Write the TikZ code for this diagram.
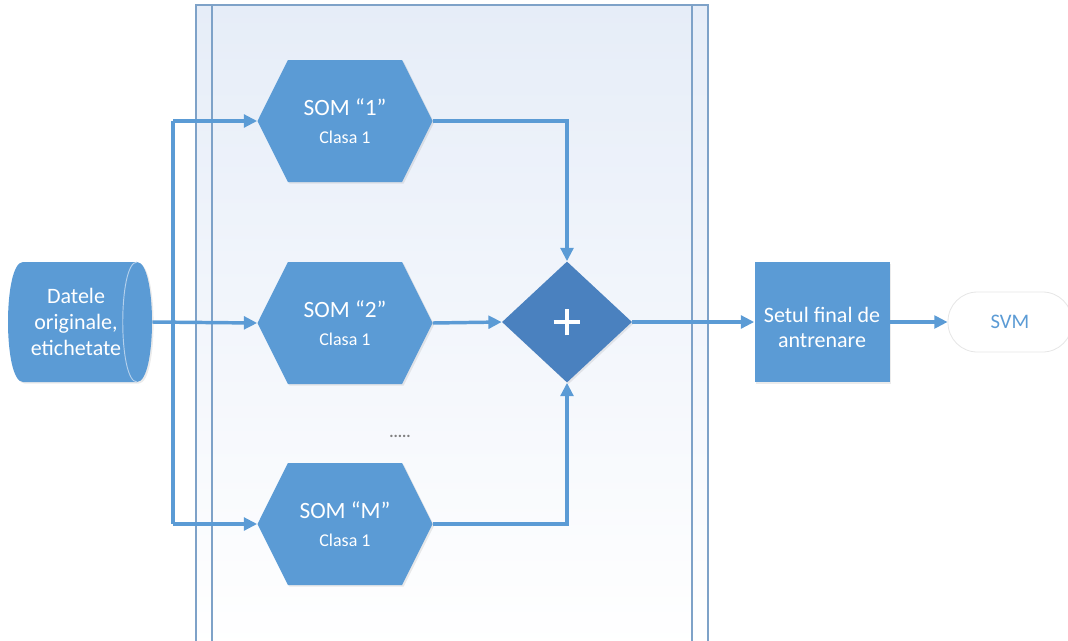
\documentclass[tikz,border=0pt]{standalone}
\usepackage{fontspec}
\setmainfont{Carlito}
\usetikzlibrary{shapes.geometric,shapes.symbols,arrows.meta,shadows}
\definecolor{somblue}{HTML}{5B9BD5}
\definecolor{sumblue}{HTML}{4A81BF}
\definecolor{lanegray}{HTML}{7EA2C8}
\definecolor{lanetop}{HTML}{E6EDF8}
\definecolor{rimblue}{HTML}{B4D0EC}
\definecolor{svmrim}{HTML}{E6E6E6}
\newcommand\somtitle{\fontsize{17.5}{21}\selectfont}
\newcommand\somclass{\fontsize{13.5}{16}\selectfont}
\begin{document}
\begin{tikzpicture}[x=0.75pt,y=-0.75pt,
  flow/.style={line width=2.6pt, draw=somblue},
  conn/.style={flow, -{Triangle[length=10pt,width=9.5pt]}},
  lane/.style={draw=lanegray, line width=1pt},
  soft/.style={drop shadow={opacity=0.16, shadow xshift=1.2pt, shadow yshift=-1.2pt}},
  somhex/.style={signal, signal to=west and east, signal pointer angle=127,
    fill=somblue, draw=none, minimum width=131.25pt, minimum height=91.5pt,
    text=white, align=center, inner sep=0pt, soft},
  store/.style={rectangle, minimum width=114pt, minimum height=90pt,
    text=white, align=center, inner sep=0pt,
    font=\fontsize{16.5}{19.5}\selectfont},
  sumnode/.style={diamond, aspect=1.07, minimum width=97.5pt, minimum height=90.75pt,
    inner sep=0pt, fill=sumblue, soft,
    path picture={\draw[white,line width=3.6pt]
      ([xshift=-10pt]path picture bounding box.center) -- ([xshift=10pt]path picture bounding box.center)
      ([yshift=-10pt]path picture bounding box.center) -- ([yshift=10pt]path picture bounding box.center);}},
  setbox/.style={rectangle, fill=somblue, minimum width=101.25pt, minimum height=90pt,
    text=white, align=center, inner sep=0pt, soft,
    font=\fontsize{16.5}{19}\selectfont},
  term/.style={rectangle, rounded corners=22pt, fill=white, draw=svmrim, line width=0.6pt,
    minimum width=93pt, minimum height=45pt, text=somblue,
    font=\fontsize{15.5}{18}\selectfont}
]
\useasboundingbox (0,0) rectangle (1068,640);

% swimlane holding the SOM ensemble
\shade[top color=lanetop, bottom color=white] (196,5) rectangle (708,650);
\draw[lane] (196,650) -- (196,5) -- (708,5) -- (708,650);
\draw[lane] (212,5) -- (212,650) (692,5) -- (692,650);

% stored-data drum lying on its side, visible end on the right
\fill[somblue, drop shadow={opacity=0.16, shadow xshift=1.2pt, shadow yshift=-1.2pt}]
  (23,262) -- (137,262) .. controls (157,262) and (157,382) .. (137,382)
  -- (23,382) .. controls (3,382) and (3,262) .. (23,262) -- cycle;
\draw[rimblue, line width=0.7pt] (137,262) .. controls (118,262) and (118,382) .. (137,382);
\node[store] (data) at (76,322) {Datele\\originale,\\etichetate};

% nodes
\node[somhex] (som1) at (345,121) {{\somtitle SOM “1”}\\[9pt]{\somclass Clasa 1}};
\node[somhex] (som2) at (345,323) {{\somtitle SOM “2”}\\[9pt]{\somclass Clasa 1}};
\node[somhex] (somM) at (345,524) {{\somtitle SOM “M”}\\[9pt]{\somclass Clasa 1}};
\node[text=gray, font=\fontsize{12}{12}\bfseries] (dots) at (400,436) {.....};
\node[sumnode] (sum) at (567,322) {};
\node[setbox] (train) at (822,322) {\rule{0pt}{20pt}Setul final de\\antrenare};
\node[term] (svm) at (1010,322) {SVM};

% fan-out of the labelled data
\coordinate (jtop) at (173,121);
\coordinate (jbot) at (173,524);
\draw[flow] (jtop) -- (jbot);
\draw[conn] (data.east) -- (som2.west);
\draw[conn] (jtop) -- (som1.west);
\draw[conn] (jbot) -- (somM.west);

% merge into the sum
\draw[conn] (som1.east) -| (sum.north);
\draw[conn] (som2.east) -- (sum.west);
\draw[conn] (somM.east) -| (sum.south);

% output chain
\draw[conn] (sum.east) -- (train.west);
\draw[conn] (train.east) -- (svm.west);
\end{tikzpicture}
\end{document}
